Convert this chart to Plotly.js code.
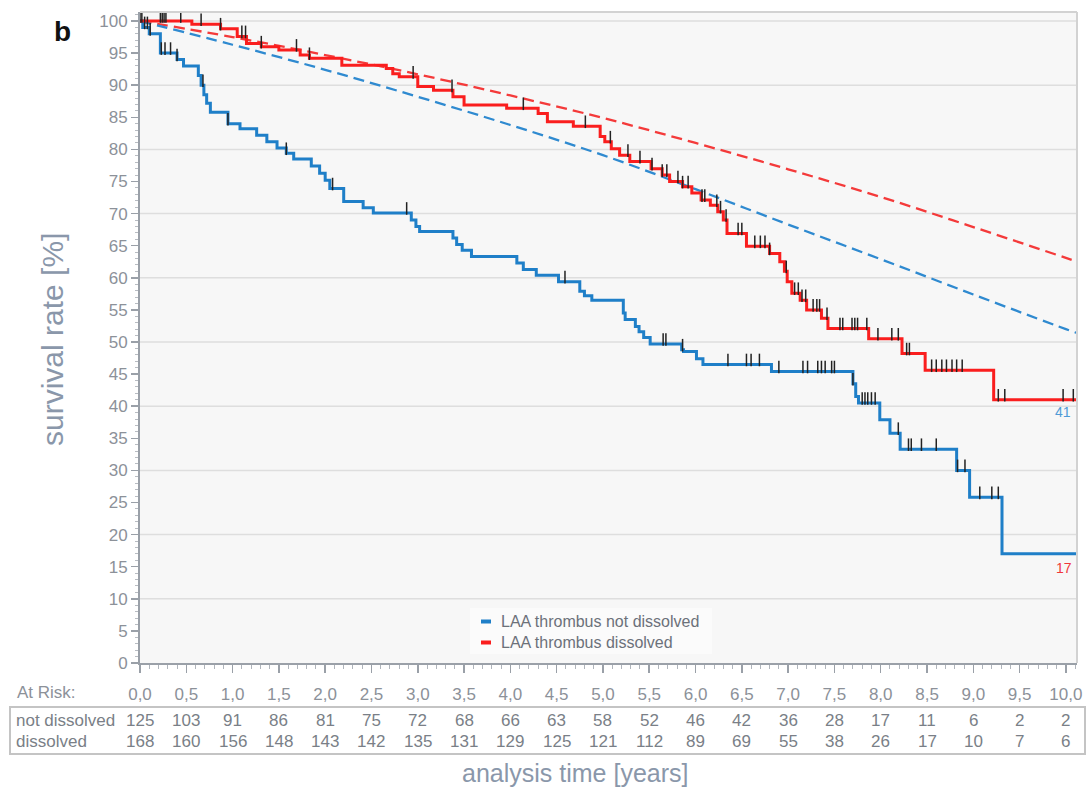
<!DOCTYPE html>
<html>
<head>
<meta charset="utf-8">
<script src="https://cdn.plot.ly/plotly-3.0.1.min.js"></script>
<style>html,body{margin:0;padding:0;background:#fff;}#chart{width:1092px;height:787px;}</style>
</head>
<body>
<div id="chart"></div>
<script>
// ---------- data ----------
const blueTimes = [0, 0.03, 0.10, 0.22, 0.40, 0.47, 0.63, 0.66, 0.69, 0.72, 0.76, 0.95, 1.08, 1.26, 1.37, 1.48, 1.58, 1.66, 1.85, 1.94, 2.00, 2.05, 2.20, 2.41, 2.52, 2.93, 2.98, 3.02, 3.38, 3.42, 3.48, 3.58, 4.07, 4.14, 4.28, 4.52, 4.75, 4.80, 4.88, 5.22, 5.24, 5.35, 5.39, 5.44, 5.51, 5.85, 5.87, 6.01, 6.08, 6.82, 7.70, 7.73, 7.76, 7.99, 8.10, 8.21, 8.82, 8.96, 9.31, 10.12];
const blueSurv  = [100, 99, 98, 95, 94, 93, 91.5, 90, 88.5, 87.2, 85.8, 84.0, 83.2, 82.2, 81.2, 80.2, 79.4, 78.5, 77.4, 76.3, 75.2, 73.9, 71.9, 70.9, 70.1, 69.0, 68.0, 67.2, 66.2, 65.2, 64.3, 63.3, 62.3, 61.3, 60.4, 59.4, 57.9, 57.2, 56.5, 54.5, 53.5, 52.4, 51.6, 50.7, 49.7, 48.8, 48.5, 47.4, 46.5, 45.4, 43.5, 41.5, 40.5, 37.9, 35.8, 33.3, 30.0, 25.8, 17.0, 17.0];

const redTimes = [0, 0.56, 0.87, 1.05, 1.15, 1.31, 1.50, 1.73, 1.83, 2.18, 2.66, 2.73, 2.80, 3.00, 3.17, 3.38, 3.50, 3.96, 4.30, 4.40, 4.68, 4.97, 5.02, 5.09, 5.18, 5.29, 5.52, 5.64, 5.72, 5.86, 5.96, 6.06, 6.16, 6.24, 6.30, 6.34, 6.55, 6.80, 6.91, 6.96, 6.99, 7.04, 7.13, 7.20, 7.36, 7.43, 7.87, 8.23, 8.48, 9.22, 10.12];
const redSurv  = [100, 99.5, 98.8, 97.6, 96.5, 96.0, 95.5, 94.7, 94.2, 93.1, 92.6, 91.8, 91.3, 89.8, 89.2, 88.2, 86.9, 86.4, 85.6, 84.3, 83.6, 82.0, 81.2, 80.1, 79.1, 78.1, 77.0, 76.0, 75.0, 74.2, 73.2, 72.1, 71.3, 70.3, 69.0, 66.9, 64.9, 63.8, 62.5, 61.0, 59.4, 57.6, 56.5, 55.0, 53.7, 52.1, 50.5, 48.2, 45.6, 41.0, 41.0];

const blueCensor = [0.02, 0.05, 0.08, 0.11, 0.23, 0.27, 0.33, 0.40, 0.68, 0.95, 1.58, 2.08, 2.88, 4.59, 5.65, 5.68, 5.86, 6.35, 6.55, 6.60, 6.69, 6.90, 7.16, 7.21, 7.32, 7.36, 7.40, 7.47, 7.50, 7.70, 7.80, 7.83, 7.86, 7.90, 7.94, 8.19, 8.30, 8.33, 8.44, 8.60, 8.83, 8.91, 9.07, 9.20, 9.27];
const redCensor = [0.0, 0.22, 0.24, 0.26, 0.28, 0.44, 0.66, 0.87, 1.10, 1.14, 1.31, 1.69, 1.83, 2.95, 3.37, 4.14, 4.81, 5.08, 5.27, 5.40, 5.53, 5.64, 5.69, 5.81, 5.86, 5.92, 6.07, 6.10, 6.23, 6.27, 6.33, 6.46, 6.50, 6.64, 6.70, 6.75, 6.80, 6.98, 7.07, 7.11, 7.15, 7.19, 7.27, 7.31, 7.34, 7.42, 7.56, 7.59, 7.69, 7.72, 7.75, 7.85, 7.97, 8.12, 8.19, 8.28, 8.31, 8.55, 8.60, 8.66, 8.71, 8.77, 8.82, 8.88, 9.27, 9.34, 9.97, 10.08];

const expTimes = [0, 1, 2, 3, 4, 5, 6, 7, 8, 9, 10, 10.12];
const blueExpected = [100, 96.3, 92.4, 88.2, 83.8, 79.1, 73.8, 68.3, 62.9, 57.4, 52.0, 51.4];
const redExpected  = [100, 97.5, 94.7, 91.7, 88.4, 84.9, 81.0, 76.9, 72.6, 67.9, 63.1, 62.5];

const riskTimes = [0, 0.5, 1, 1.5, 2, 2.5, 3, 3.5, 4, 4.5, 5, 5.5, 6, 6.5, 7, 7.5, 8, 8.5, 9, 9.5, 10];
const riskNotDissolved = [125, 103, 91, 86, 81, 75, 72, 68, 66, 63, 58, 52, 46, 42, 36, 28, 17, 11, 6, 2, 2];
const riskDissolved    = [168, 160, 156, 148, 143, 142, 135, 131, 129, 125, 121, 112, 89, 69, 55, 38, 26, 17, 10, 7, 6];

const seriesNames = ['LAA thrombus not dissolved', 'LAA thrombus dissolved'];
const endLabels = ['41', '17'];

// ---------- styling ----------
const BLUE = '#1f7fc8', RED = '#fa1e1e';
const GRAY = '#8c9199', TITLE = '#8a97aa', TXT = '#7a7f87';
const FONT = 'Liberation Sans, Arial, sans-serif';

function stepValue(times, vals, t) {
  let v = vals[0];
  for (let i = 0; i < times.length; i++) { if (times[i] <= t) v = vals[i]; else break; }
  return v;
}
const tickOff = 0.7;
const blueCensorY = blueCensor.map(t => stepValue(blueTimes, blueSurv, t) + tickOff);
const redCensorY = redCensor.map(t => stepValue(redTimes, redSurv, t) + tickOff);

const traces = [
  {x: expTimes, y: redExpected, mode: 'lines', line: {color: '#f43a3a', width: 2.3, dash: '11px,6px', shape: 'spline'}, showlegend: false, hoverinfo: 'skip'},
  {x: expTimes, y: blueExpected, mode: 'lines', line: {color: '#2f8ad0', width: 2.3, dash: '11px,6px', shape: 'spline'}, showlegend: false, hoverinfo: 'skip'},
  {x: blueTimes, y: blueSurv, mode: 'lines', name: seriesNames[0], line: {color: BLUE, width: 3, shape: 'hv'}, showlegend: false, hoverinfo: 'skip'},
  {x: redTimes, y: redSurv, mode: 'lines', name: seriesNames[1], line: {color: RED, width: 3, shape: 'hv'}, showlegend: false, hoverinfo: 'skip'},
  {x: blueCensor, y: blueCensorY, mode: 'markers', marker: {symbol: 'line-ns', size: 9, line: {color: '#222', width: 1.5}}, showlegend: false, hoverinfo: 'skip'},
  {x: redCensor, y: redCensorY, mode: 'markers', marker: {symbol: 'line-ns', size: 9, line: {color: '#222', width: 1.5}}, showlegend: false, hoverinfo: 'skip'}
];

// paper helpers (plot area: x 140..1077, y 12..663 px)
const L = 140, R = 1077, T = 12, B = 663;
const px = x => (x - L) / (R - L);
const py = y => (B - y) / (B - T);

const shapes = [];
for (let g = 10; g <= 100; g += 10) {
  shapes.push({type: 'line', xref: 'paper', yref: 'y', x0: 0, x1: 1, y0: g, y1: g, line: {color: '#dedede', width: 1.5}, layer: 'below'});
}
shapes.push({type: 'line', xref: 'paper', yref: 'paper', x0: 0, x1: 1, y0: 1, y1: 1, line: {color: '#d2d2d2', width: 2}});
shapes.push({type: 'line', xref: 'paper', yref: 'paper', x0: 1, x1: 1, y0: 0, y1: 1, line: {color: '#d2d2d2', width: 2}});
// legend background and swatches
shapes.push({type: 'rect', xref: 'paper', yref: 'paper', x0: px(470), x1: px(712), y0: py(654), y1: py(608), fillcolor: 'rgba(255,255,255,0.45)', line: {width: 0}, layer: 'below'});
shapes.push({type: 'rect', xref: 'paper', yref: 'paper', x0: px(481), x1: px(491), y0: py(623.5), y1: py(619.5), fillcolor: BLUE, line: {width: 0}});
shapes.push({type: 'rect', xref: 'paper', yref: 'paper', x0: px(481), x1: px(491), y0: py(644.5), y1: py(640.5), fillcolor: RED, line: {width: 0}});
// at-risk box
shapes.push({type: 'rect', xref: 'paper', yref: 'paper', x0: px(10), x1: px(1085), y0: py(707), y1: py(754), line: {color: '#c4c4c4', width: 2}, fillcolor: 'rgba(0,0,0,0)'});

function ann(text, x, y, xanchor, size, color, extra) {
  return Object.assign({text: text, xref: 'paper', yref: 'paper', x: px(x), y: py(y), xanchor: xanchor, yanchor: 'middle', showarrow: false, font: {family: FONT, size: size, color: color}}, extra || {});
}
const annotations = [
  ann('<b>b</b>', 62, 31, 'center', 28, '#111'),
  ann('survival rate [%]', 52, 340, 'center', 30, TITLE, {textangle: -90}),
  ann('analysis time [years]', 575, 773, 'center', 25, TITLE),
  ann('At Risk:', 15, 692, 'left', 17, GRAY),
  ann('not dissolved', 14, 720, 'left', 17, TXT),
  ann('dissolved', 14, 741, 'left', 17, TXT),
  ann(seriesNames[0], 499, 621.5, 'left', 16, '#6c717a'),
  ann(seriesNames[1], 499, 642.5, 'left', 16, '#6c717a'),
  {text: endLabels[0], x: redTimes[redTimes.length - 1], y: redSurv[redSurv.length - 1], xanchor: 'right', yanchor: 'middle', xshift: -4, yshift: -12, showarrow: false, font: {family: FONT, size: 14, color: '#4f9ad6'}},
  {text: endLabels[1], x: blueTimes[blueTimes.length - 1], y: blueSurv[blueSurv.length - 1], xanchor: 'right', yanchor: 'middle', xshift: -3, yshift: -14, showarrow: false, font: {family: FONT, size: 14, color: '#f0383a'}}
];
riskTimes.forEach((t, i) => {
  annotations.push({text: String(riskNotDissolved[i]), x: t, xref: 'x', yref: 'paper', y: py(720), xanchor: 'center', yanchor: 'middle', showarrow: false, font: {family: FONT, size: 17, color: TXT}});
  annotations.push({text: String(riskDissolved[i]), x: t, xref: 'x', yref: 'paper', y: py(741), xanchor: 'center', yanchor: 'middle', showarrow: false, font: {family: FONT, size: 17, color: TXT}});
});

const layout = {
  width: 1092, height: 787,
  margin: {l: L, r: 1092 - R, t: T, b: 787 - B, pad: 0},
  paper_bgcolor: '#ffffff', plot_bgcolor: '#f7f7f7',
  separators: ', ',
  font: {family: FONT, color: GRAY, size: 17},
  showlegend: false,
  xaxis: {
    range: [0, 10.12], tickvals: riskTimes, tickformat: '.1f',
    showgrid: false, zeroline: false,
    showline: true, linecolor: '#9aa0a8', linewidth: 2,
    ticks: 'outside', ticklen: 8, tickwidth: 1.5, tickcolor: '#9aa0a8',
    minor: {dtick: 0.1, ticks: 'outside', ticklen: 4, tickcolor: '#b0b5bc', tickwidth: 1, showgrid: false},
    ticklabelstandoff: 7,
    tickfont: {family: FONT, size: 17, color: GRAY}
  },
  yaxis: {
    range: [0, 101.4], dtick: 5, tick0: 0,
    showgrid: false, zeroline: false,
    showline: true, linecolor: '#9aa0a8', linewidth: 2,
    ticks: 'outside', ticklen: 7, tickwidth: 1.5, tickcolor: '#9aa0a8',
    minor: {dtick: 1, ticks: 'outside', ticklen: 3, tickcolor: '#b8bcc2', tickwidth: 1, showgrid: false},
    tickfont: {family: FONT, size: 17, color: GRAY}
  },
  shapes: shapes,
  annotations: annotations
};

Plotly.newPlot('chart', traces, layout, {displayModeBar: false, staticPlot: true});
</script>
</body>
</html>
